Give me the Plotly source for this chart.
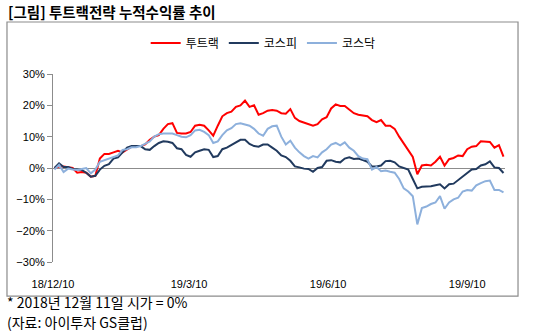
import pandas as pd
import plotly.graph_objects as go

# Sampling dates (every 3 calendar days from the base date)
dates = pd.date_range("2018-12-11", periods=100, freq="3D")

# Cumulative return (%) of each series
two_track = [
    0.0, 0.5, 0.5, 0.3, 0.0, -1.5, -1.3, -1.5, -2.8, -2.5,
    3.0, 4.5, 4.5, 5.0, 5.5, 5.0, 6.0, 6.8, 7.0, 7.0,
    7.5, 9.0, 10.0, 10.5, 12.5, 14.0, 14.3, 11.2, 11.0, 11.0,
    11.5, 13.5, 13.8, 13.5, 12.0, 10.3, 13.5, 16.5, 17.5, 18.0,
    19.5, 20.0, 21.5, 19.5, 20.0, 17.0, 17.5, 18.3, 18.5, 18.3,
    17.5, 17.3, 18.8, 16.0, 15.0, 14.5, 14.0, 13.5, 14.0, 15.5,
    16.2, 19.0, 20.3, 19.8, 19.8, 18.5, 17.5, 17.0, 16.7, 16.5,
    15.3, 14.6, 15.3, 13.5, 13.5, 12.5, 10.0, 7.8, 5.5, 3.5,
    -2.0, 0.8, 1.0, 0.8, 2.0, 3.6, 0.8, 2.8, 3.2, 4.0,
    3.8, 6.0, 6.8, 7.0, 8.5, 8.5, 8.3, 6.5, 7.3, 3.6,
]
kospi = [
    0.0, 1.5, 0.3, 0.3, -0.3, -0.5, -0.6, -1.5, -2.8, -2.5,
    -0.5, 0.7, 1.2, 3.0, 3.4, 5.0, 6.5, 7.0, 7.0, 7.0,
    6.0, 5.8, 7.0, 8.0, 8.5, 8.4, 8.0, 6.3, 6.0, 4.2,
    3.6, 5.0, 5.5, 6.0, 5.8, 3.5, 3.8, 6.0, 6.5, 7.3,
    8.0, 9.0, 9.0, 7.7, 7.0, 6.8, 7.5, 7.5, 6.5, 5.5,
    4.0, 3.5, 2.3, 0.5, 0.2, -0.2, -0.3, -1.2, 0.0, 0.3,
    2.3, 2.5, 2.0, 1.8, 3.0, 3.4, 2.9, 3.0, 2.5, 2.0,
    0.5, 0.5, 0.8, 2.2, 2.3, 1.8, 0.5, 0.0, -0.5, -3.5,
    -6.5, -6.0, -6.0, -5.8, -5.5, -5.2, -6.5, -5.2, -5.0, -3.8,
    -2.8, -1.6, -0.5, -0.3, 0.8, 1.2, 2.1, 0.2, 0.0, -1.6,
]
kosdaq = [
    -0.5, 1.0, -1.3, -0.2, -0.5, -0.6, -0.3, 0.0, -1.7, -0.5,
    2.0, 2.5, 2.8, 3.5, 4.0, 5.8, 6.0, 6.6, 6.6, 7.0,
    7.7, 8.5, 10.0, 10.8, 11.0, 11.0, 11.0, 10.5, 10.0, 9.8,
    10.5, 12.0, 12.2, 11.5, 10.5, 8.0, 8.5, 10.5, 12.0, 12.7,
    14.0, 14.3, 14.0, 13.5, 12.5, 11.0, 10.3, 12.5, 13.3, 13.5,
    10.0, 7.5, 8.7, 6.5, 5.0, 3.8, 3.0, 3.8, 3.4, 5.0,
    6.0, 7.5, 8.0, 7.2, 8.2, 6.5, 5.5, 3.8, 3.0, 2.8,
    -0.5, 0.3, -1.0, -0.8, -1.2, -1.5, -3.5, -6.5, -7.5, -9.0,
    -18.0, -12.8, -12.3, -11.5, -11.0, -9.0, -13.0, -11.0, -10.0, -9.5,
    -7.5, -7.0, -7.2, -5.5, -4.8, -4.2, -4.0, -7.0, -7.0, -7.8,
]

series_names = ["투트랙", "코스피", "코스닥"]
series_colors = ["#FF0000", "#213A5E", "#8DB0DC"]

tick_dates = ["2018-12-10", "2019-03-10", "2019-06-10", "2019-09-10"]
tick_labels = ["18/12/10", "19/3/10", "19/6/10", "19/9/10"]

title_text = "[그림] 투트랙전략 누적수익률 추이"
note_lines = ["* 2018년 12월 11일 시가 = 0%", "(자료: 아이투자 GS클럽)"]

FONT = "Liberation Sans, Noto Sans CJK KR, sans-serif"
KFONT = "Noto Sans CJK KR, Liberation Sans, sans-serif"
GRAY = "#8C8C8C"

fig = go.Figure()
for name, vals, color in zip(series_names, [two_track, kospi, kosdaq], series_colors):
    fig.add_trace(go.Scatter(
        x=dates, y=vals, mode="lines", name=name,
        line=dict(color=color, width=2),
    ))

x_range = ["2018-12-10", "2019-10-05"]

fig.update_layout(
    width=533, height=335,
    margin=dict(l=53, r=28, t=74, b=73),
    paper_bgcolor="white", plot_bgcolor="white",
    font=dict(family=FONT, size=11, color="#000000"),
    showlegend=True,
    legend=dict(
        orientation="h", x=0.465, xanchor="center", y=1.165, yanchor="middle",
        font=dict(family=KFONT, size=12, color="#000000"),
        itemwidth=30, tracegroupgap=0, bgcolor="rgba(0,0,0,0)",
    ),
    xaxis=dict(
        type="date", range=x_range,
        tickvals=tick_dates, ticktext=tick_labels,
        showgrid=False, showline=False, zeroline=False,
        ticks="", ticklabelstandoff=14,
        tickfont=dict(size=11, color="#000000"),
    ),
    xaxis2=dict(
        type="date", range=x_range, overlaying="x", matches="x",
        anchor="free", position=0.5,
        tickvals=tick_dates, showticklabels=False,
        showgrid=False, showline=False, zeroline=False,
        ticks="outside", ticklen=4, tickcolor=GRAY, tickwidth=1,
    ),
    yaxis=dict(
        range=[-30, 30], dtick=10, ticksuffix="%",
        showgrid=False, showline=True, linecolor=GRAY, linewidth=1,
        ticks="outside", ticklen=5, tickcolor=GRAY,
        zeroline=True, zerolinecolor=GRAY, zerolinewidth=1,
        tickfont=dict(size=11, color="#000000"),
    ),
)

# Outer frame around chart
fig.add_shape(
    type="rect", xref="paper", yref="paper",
    x0=-0.1018, x1=1.0288, y0=-0.181, y1=1.2766,
    line=dict(color=GRAY, width=1.2), fillcolor="rgba(0,0,0,0)", layer="below",
)

fig.add_annotation(
    text="<b>" + title_text + "</b>", xref="paper", yref="paper",
    x=-0.104, y=1.335, xanchor="left", yanchor="middle", showarrow=False,
    font=dict(family=KFONT, size=14.5, color="#000000"),
)
for i, line in enumerate(note_lines):
    fig.add_annotation(
        text=line, xref="paper", yref="paper",
        x=-0.106, y=-0.213 - i * 0.106, xanchor="left", yanchor="middle",
        showarrow=False, font=dict(family=KFONT, size=14, color="#000000"),
    )

fig.write_html("out.html")
